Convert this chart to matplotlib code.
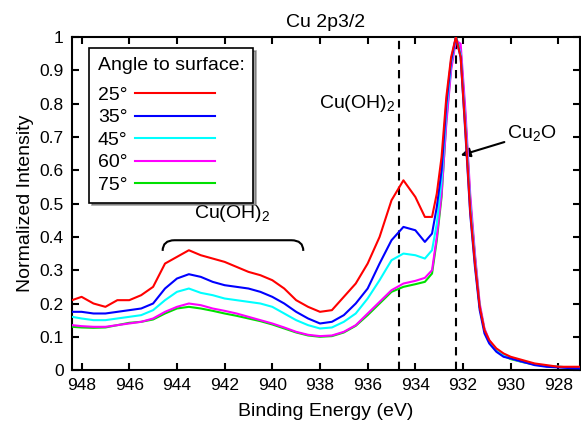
import numpy as np
import matplotlib
matplotlib.use("Agg")
import matplotlib.pyplot as plt
from matplotlib.path import Path
from matplotlib.patches import PathPatch

plt.rcParams['font.family'] = ['Liberation Sans', 'DejaVu Sans']
plt.rcParams['font.size'] = 14
plt.rcParams['mathtext.fontset'] = 'custom'
plt.rcParams['mathtext.rm'] = 'Liberation Sans'

# binding energy grid (eV)
energy = [948.4, 948.0, 947.5, 947.0, 946.5, 946.0, 945.5, 945.0, 944.5, 944.0,
          943.5, 943.0, 942.5, 942.0, 941.5, 941.0, 940.5, 940.0, 939.5, 939.0,
          938.5, 938.0, 937.5, 937.0, 936.5, 936.0, 935.5, 935.0, 934.5, 934.0,
          933.6, 933.3, 933.1, 932.9, 932.7, 932.5, 932.3, 932.1, 931.9, 931.7,
          931.5, 931.3, 931.1, 930.9, 930.6, 930.3, 930.0, 929.5, 929.0, 928.5,
          928.0, 927.5, 927.0]

a25 = [0.21, 0.22, 0.20, 0.19, 0.21, 0.21, 0.225, 0.25, 0.32, 0.34,
       0.36, 0.345, 0.335, 0.325, 0.31, 0.295, 0.285, 0.27, 0.245, 0.21,
       0.19, 0.175, 0.18, 0.22, 0.26, 0.32, 0.40, 0.51, 0.57, 0.52,
       0.46, 0.46, 0.53, 0.64, 0.82, 0.94, 1.0, 0.94, 0.72, 0.48,
       0.32, 0.19, 0.12, 0.09, 0.065, 0.05, 0.04, 0.03, 0.02, 0.015,
       0.01, 0.01, 0.01]
a35 = [0.175, 0.175, 0.17, 0.17, 0.175, 0.18, 0.185, 0.20, 0.245, 0.275,
       0.288, 0.28, 0.265, 0.255, 0.25, 0.245, 0.235, 0.22, 0.20, 0.175,
       0.155, 0.14, 0.145, 0.165, 0.20, 0.245, 0.32, 0.39, 0.43, 0.42,
       0.385, 0.41, 0.49, 0.60, 0.80, 0.93, 1.0, 0.94, 0.71, 0.47,
       0.31, 0.18, 0.11, 0.08, 0.055, 0.04, 0.035, 0.025, 0.015, 0.01,
       0.008, 0.006, 0.005]
a45 = [0.16, 0.155, 0.15, 0.15, 0.155, 0.16, 0.165, 0.18, 0.21, 0.235,
       0.245, 0.232, 0.225, 0.215, 0.21, 0.205, 0.20, 0.19, 0.17, 0.15,
       0.135, 0.125, 0.128, 0.145, 0.17, 0.215, 0.27, 0.33, 0.35, 0.345,
       0.335, 0.36, 0.44, 0.57, 0.78, 0.92, 1.0, 0.95, 0.74, 0.50,
       0.33, 0.19, 0.12, 0.085, 0.06, 0.045, 0.035, 0.025, 0.018, 0.012,
       0.01, 0.008, 0.007]
a60 = [0.135, 0.132, 0.13, 0.13, 0.135, 0.14, 0.145, 0.155, 0.175, 0.19,
       0.20, 0.195, 0.185, 0.178, 0.17, 0.16, 0.15, 0.14, 0.128, 0.115,
       0.106, 0.102, 0.104, 0.115, 0.135, 0.17, 0.205, 0.24, 0.26, 0.268,
       0.277, 0.30, 0.40, 0.53, 0.74, 0.90, 0.99, 0.98, 0.78, 0.53,
       0.35, 0.20, 0.125, 0.09, 0.06, 0.045, 0.035, 0.025, 0.018, 0.012,
       0.01, 0.008, 0.007]
a75 = [0.13, 0.128, 0.127, 0.128, 0.135, 0.142, 0.145, 0.152, 0.17, 0.185,
       0.19, 0.185, 0.178, 0.17, 0.163, 0.155, 0.147, 0.137, 0.125, 0.113,
       0.104, 0.10, 0.102, 0.113, 0.133, 0.165, 0.20, 0.235, 0.25, 0.258,
       0.265, 0.29, 0.39, 0.52, 0.75, 0.91, 1.0, 0.96, 0.76, 0.51,
       0.34, 0.19, 0.12, 0.085, 0.058, 0.043, 0.033, 0.024, 0.017, 0.012,
       0.01, 0.008, 0.007]

labels = ['25°', '35°', '45°', '60°', '75°']
colors = ['#ff0000', '#0000ff', '#00ffff', '#ff00ff', '#00e000']
series = [a25, a35, a45, a60, a75]

fig = plt.figure(figsize=(5.81, 4.22), dpi=100)
ax = fig.add_axes([0.124, 0.123, 0.874, 0.789])

for i in range(len(series)):
    ax.plot(energy, series[i], color=colors[i], lw=1.5, label=labels[i], zorder=10 - i)

# peak positions
ax.axvline(934.7, color='black', ls=(0, (4, 3)), lw=1.5, zorder=1)
ax.axvline(932.3, color='black', ls=(0, (4, 3)), lw=1.5, zorder=1)

ax.text(934.85, 0.80, 'Cu(OH)$_2$', ha='right', va='center', fontsize=14)
ax.annotate('Cu$_2$O', xy=(932.1, 0.645), xytext=(930.15, 0.71), fontsize=14,
            ha='left', va='center',
            arrowprops=dict(arrowstyle='-|>', color='black', lw=1.5, mutation_scale=14,
                            shrinkA=0, shrinkB=0))

# brace over the satellite
x0, x1 = 944.6, 938.7
yt, yb = 0.39, 0.358
verts = [(x0, yb), (x0, yt), (x0 - 0.5, yt), (x1 + 0.5, yt), (x1, yt), (x1, yb)]
codes = [Path.MOVETO, Path.CURVE3, Path.CURVE3, Path.LINETO, Path.CURVE3, Path.CURVE3]
ax.add_patch(PathPatch(Path(verts, codes), fill=False, lw=1.5, color='black'))
ax.text(941.7, 0.47, 'Cu(OH)$_2$', ha='center', va='center', fontsize=14)

ax.set_xlim(948.4, 927.1)
ax.set_ylim(0, 1)
ax.set_xticks([948, 946, 944, 942, 940, 938, 936, 934, 932, 930, 928])
ax.set_yticks(np.arange(0, 1.01, 0.1))
ax.set_yticklabels(['0', '0.1', '0.2', '0.3', '0.4', '0.5', '0.6', '0.7', '0.8', '0.9', '1'])
ax.tick_params(direction='in', top=True, right=True, length=5, width=1.5, labelsize=12.5, pad=6)
for s in ax.spines.values():
    s.set_linewidth(1.5)

ax.set_xlabel('Binding Energy (eV)', fontsize=14, labelpad=7)
ax.set_ylabel('Normalized Intensity', fontsize=14, labelpad=4)
ax.text(0.5, 1.03, 'Cu 2p3/2', transform=ax.transAxes, ha='center', va='baseline', fontsize=14)

leg = ax.legend(loc='upper left', bbox_to_anchor=(0.0335, 0.967), title='Angle to surface:',
                markerfirst=False, fancybox=False, shadow=True, edgecolor='black',
                framealpha=1, handlelength=4.1, fontsize=14, title_fontsize=14,
                borderpad=0.45, borderaxespad=0, labelspacing=0.25, handletextpad=0.4)
leg.get_frame().set_linewidth(1.2)
leg._legend_box.align = 'left'
leg._legend_box.sep = 9

fig.savefig('out.png', dpi=100)
